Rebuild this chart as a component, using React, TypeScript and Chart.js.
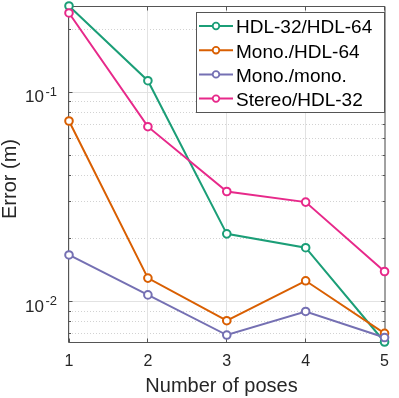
import React, { useEffect, useRef } from 'react';
import { Chart, registerables } from 'chart.js';

Chart.register(...registerables);

const poses = [1, 2, 3, 4, 5];
const seriesLabels = ['HDL-32/HDL-64', 'Mono./HDL-64', 'Mono./mono.', 'Stereo/HDL-32'];
const hdl32Hdl64 = [0.2584, 0.1136, 0.02107, 0.01809, 0.00641];
const monoHdl64 = [0.0729, 0.01295, 0.0081, 0.01257, 0.00705];
const monoMono = [0.0167, 0.01076, 0.00692, 0.00897, 0.00673];
const stereoHdl32 = [0.2393, 0.0685, 0.03357, 0.02988, 0.01392];
const seriesColors = ['#1b9e77', '#d95f02', '#7570b3', '#e7298a'];
const yMajorTicks = [0.01, 0.1];
const yTickExponents = ['-2', '-1'];
const yMin = 0.00641;
const yMax = 0.2584;
const xTitle = 'Number of poses';
const yTitle = 'Error (m)';

const FONT = '"Liberation Sans", Arial, Helvetica, sans-serif';
const AXIS_COLOR = '#555555';
const TEXT_COLOR = '#262626';

const decorPlugin = {
  id: 'decor',
  beforeDatasetsDraw(chart: any) {
    const { ctx, chartArea, scales } = chart;
    const { left, right, top, bottom } = chartArea;
    const x = scales.x;
    const y = scales.y;
    ctx.save();
    ctx.lineWidth = 1;
    // minor dotted grid
    ctx.strokeStyle = '#d2d2d2';
    ctx.setLineDash([1, 2]);
    const minors: number[] = [];
    for (const d of [0.001, 0.01, 0.1, 1]) {
      for (let k = 2; k <= 9; k++) {
        const v = k * d;
        if (v > yMin && v < yMax) minors.push(v);
      }
    }
    for (const v of minors) {
      const py = Math.floor(y.getPixelForValue(v)) + 0.5;
      ctx.beginPath();
      ctx.moveTo(left, py);
      ctx.lineTo(right, py);
      ctx.stroke();
    }
    // major grid
    ctx.setLineDash([]);
    ctx.strokeStyle = '#e2e2e2';
    for (const v of yMajorTicks) {
      const py = Math.floor(y.getPixelForValue(v)) + 0.5;
      ctx.beginPath();
      ctx.moveTo(left, py);
      ctx.lineTo(right, py);
      ctx.stroke();
    }
    for (const p of poses) {
      const px = Math.floor(x.getPixelForValue(p)) + 0.5;
      ctx.beginPath();
      ctx.moveTo(px, top);
      ctx.lineTo(px, bottom);
      ctx.stroke();
    }
    // box
    ctx.strokeStyle = AXIS_COLOR;
    const bl = left - 0.5, br = right + 0.5, bt = top + 0.5, bb = bottom + 0.5;
    ctx.beginPath();
    ctx.moveTo(bl, bt);
    ctx.lineTo(br, bt);
    ctx.lineTo(br, bb);
    ctx.lineTo(bl, bb);
    ctx.closePath();
    ctx.stroke();
    // ticks
    ctx.beginPath();
    for (const v of yMajorTicks) {
      const py = Math.floor(y.getPixelForValue(v)) + 0.5;
      ctx.moveTo(bl, py); ctx.lineTo(bl + 4, py);
      ctx.moveTo(br, py); ctx.lineTo(br - 4, py);
    }
    for (const v of minors) {
      const py = Math.floor(y.getPixelForValue(v)) + 0.5;
      ctx.moveTo(bl, py); ctx.lineTo(bl + 2.5, py);
      ctx.moveTo(br, py); ctx.lineTo(br - 2.5, py);
    }
    for (const p of poses) {
      const px = Math.floor(x.getPixelForValue(p)) + 0.5;
      ctx.moveTo(px, bb); ctx.lineTo(px, bb - 4);
      ctx.moveTo(px, bt); ctx.lineTo(px, bt + 4);
    }
    ctx.stroke();
    ctx.restore();
  },
  afterDraw(chart: any) {
    const { ctx, scales } = chart;
    const y = scales.y;
    ctx.save();
    // y tick labels 10^n
    ctx.fillStyle = TEXT_COLOR;
    yMajorTicks.forEach((v, i) => {
      const py = y.getPixelForValue(v);
      ctx.font = `17px ${FONT}`;
      ctx.textAlign = 'right';
      ctx.textBaseline = 'alphabetic';
      ctx.fillText('10', 44, py + 10);
      ctx.font = `13px ${FONT}`;
      ctx.textAlign = 'left';
      ctx.fillText(yTickExponents[i], 45.5, py + 3.8);
    });
    // axis titles
    ctx.font = `20px ${FONT}`;
    ctx.textAlign = 'center';
    ctx.textBaseline = 'alphabetic';
    ctx.fillText(xTitle, 221.5, 392.3);
    ctx.save();
    ctx.translate(16, 179);
    ctx.rotate(-Math.PI / 2);
    ctx.fillText(yTitle, 0, 0);
    ctx.restore();
    // legend
    const lx0 = 196.5, ly0 = 12.5, lx1 = 384.5, ly1 = 112.5;
    ctx.fillStyle = '#ffffff';
    ctx.fillRect(lx0, ly0, lx1 - lx0, ly1 - ly0);
    ctx.strokeStyle = AXIS_COLOR;
    ctx.lineWidth = 1;
    ctx.strokeRect(lx0, ly0, lx1 - lx0, ly1 - ly0);
    chart.data.datasets.forEach((ds: any, i: number) => {
      const base = 33.3 + i * 24.2;
      const ry = base - 7.3;
      ctx.strokeStyle = ds.borderColor;
      ctx.lineWidth = 2;
      ctx.beginPath();
      ctx.moveTo(199, ry);
      ctx.lineTo(233, ry);
      ctx.stroke();
      ctx.beginPath();
      ctx.arc(216, ry, 3.3, 0, Math.PI * 2);
      ctx.fillStyle = '#ffffff';
      ctx.fill();
      ctx.lineWidth = 1.8;
      ctx.stroke();
      ctx.fillStyle = '#000000';
      ctx.font = `19px ${FONT}`;
      ctx.textAlign = 'left';
      ctx.textBaseline = 'alphabetic';
      ctx.fillText(ds.label, 236, base);
    });
    ctx.restore();
  },
};

export default function App() {
  const canvasRef = useRef<HTMLCanvasElement | null>(null);

  useEffect(() => {
    const canvas = canvasRef.current;
    if (!canvas) return;
    const seriesValues = [hdl32Hdl64, monoHdl64, monoMono, stereoHdl32];
    const chart = new Chart(canvas, {
      type: 'line',
      data: {
        datasets: seriesValues.map((vals, i) => ({
          label: seriesLabels[i],
          data: poses.map((p, j) => ({ x: p, y: vals[j] })),
          borderColor: seriesColors[i],
          backgroundColor: '#ffffff',
          pointBackgroundColor: '#ffffff',
          pointBorderColor: seriesColors[i],
          pointRadius: 3.8,
          pointBorderWidth: 2,
          borderWidth: 2,
          tension: 0,
          clip: false as any,
          order: seriesValues.length - 1 - i,
        })),
      },
      options: {
        animation: false,
        responsive: false,
        devicePixelRatio: 1,
        events: [],
        layout: { padding: { top: 4, right: 6, left: 0, bottom: 0 } },
        plugins: {
          legend: { display: false },
          tooltip: { enabled: false },
          title: { display: false },
        },
        scales: {
          x: {
            type: 'linear',
            position: 'bottom',
            min: 1,
            max: 5,
            grid: { display: false, drawTicks: false },
            border: { display: false },
            ticks: {
              stepSize: 1,
              padding: 10,
              color: TEXT_COLOR,
              font: { family: FONT, size: 16 },
              maxRotation: 0,
            },
            afterFit(scale: any) {
              scale.height = 56;
            },
          },
          y: {
            type: 'logarithmic',
            position: 'left',
            min: yMin,
            max: yMax,
            grid: { display: false, drawTicks: false },
            border: { display: false },
            ticks: { display: false },
            afterFit(scale: any) {
              scale.width = 69;
            },
          },
        },
      },
      plugins: [decorPlugin],
    });
    return () => chart.destroy();
  }, []);

  return (
    <div style={{ position: 'fixed', left: 0, top: 0, width: 399, height: 398, background: '#ffffff' }}>
      <canvas ref={canvasRef} width={399} height={398} style={{ width: 399, height: 398, display: 'block' }} />
    </div>
  );
}
